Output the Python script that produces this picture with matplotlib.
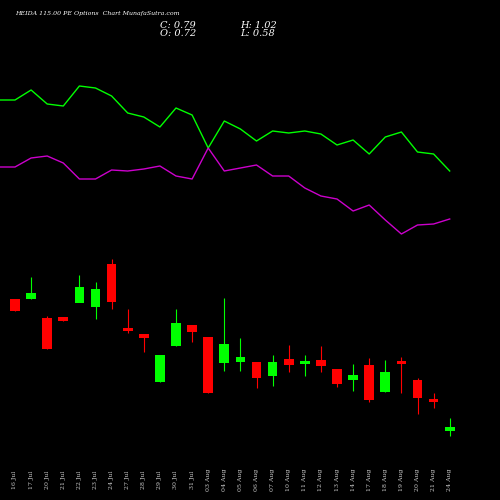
import matplotlib
matplotlib.use("Agg")
import matplotlib.pyplot as plt

dates = ["16 Jul", "17 Jul", "20 Jul", "21 Jul", "22 Jul", "23 Jul", "24 Jul", "27 Jul",
         "28 Jul", "29 Jul", "30 Jul", "31 Jul", "03 Aug", "04 Aug", "05 Aug", "06 Aug",
         "07 Aug", "10 Aug", "11 Aug", "12 Aug", "13 Aug", "14 Aug", "17 Aug", "18 Aug",
         "19 Aug", "20 Aug", "21 Aug", "24 Aug"]
# chart units (higher = up)
opens = [2.01, 2.01, 1.82, 1.83, 1.97, 1.93, 2.36, 1.72, 1.66, 1.18, 1.54, 1.75, 1.63, 1.37,
         1.38, 1.38, 1.24, 1.41, 1.36, 1.40, 1.31, 1.20, 1.35, 1.08, 1.38, 1.20, 1.00, 0.69]
closes = [1.89, 2.07, 1.51, 1.79, 2.13, 2.11, 1.98, 1.69, 1.62, 1.45, 1.77, 1.68, 1.07, 1.56,
          1.43, 1.22, 1.38, 1.35, 1.39, 1.34, 1.16, 1.25, 1.00, 1.28, 1.36, 1.02, 0.98, 0.73]
highs = [2.01, 2.23, 1.84, 1.83, 2.25, 2.18, 2.41, 1.91, 1.66, 1.45, 1.91, 1.75, 1.63, 2.02,
         1.62, 1.38, 1.45, 1.55, 1.45, 1.54, 1.31, 1.36, 1.42, 1.40, 1.43, 1.22, 1.07, 0.82]
lows = [1.89, 2.01, 1.51, 1.79, 2.13, 1.81, 1.91, 1.67, 1.48, 1.18, 1.54, 1.58, 1.07, 1.29,
        1.29, 1.12, 1.14, 1.28, 1.24, 1.28, 1.13, 1.09, 0.98, 1.08, 1.07, 0.86, 0.92, 0.64]
green_line = [4.00, 4.10, 3.96, 3.94, 4.14, 4.12, 4.04, 3.87, 3.83, 3.73, 3.92, 3.85, 3.52, 3.79,
              3.71, 3.59, 3.69, 3.67, 3.69, 3.66, 3.55, 3.60, 3.46, 3.63, 3.68, 3.48, 3.46, 3.29]
magenta_line = [3.33, 3.42, 3.44, 3.37, 3.21, 3.21, 3.30, 3.29, 3.31, 3.34, 3.24, 3.21, 3.52, 3.29,
                3.32, 3.35, 3.24, 3.24, 3.12, 3.04, 3.01, 2.89, 2.95, 2.80, 2.66, 2.75, 2.76, 2.81]

fig = plt.figure(figsize=(5, 5), dpi=100, facecolor="black")
ax = fig.add_axes([0, 0, 1, 1], facecolor="black")
xs = list(range(len(dates)))

ax.plot([-1] + xs, [green_line[0]] + green_line, color="#00ff00", lw=1)
ax.plot([-1] + xs, [magenta_line[0]] + magenta_line, color="#cc00cc", lw=1)

for x, o, c, h, l in zip(xs, opens, closes, highs, lows):
    col = "#00ff00" if c >= o else "#ff0000"
    ax.vlines(x, l, h, color=col, lw=0.8)
    ax.bar(x, max(abs(c - o), 0.03), bottom=min(o, c), width=0.6, color=col)

for x, d in zip(xs, dates):
    ax.text(x, 0.2, d, rotation=90, color="#cccccc", fontsize=4.5,
            ha="center", va="center", family="DejaVu Serif")

ax.text(0.02, 4.86, "HEIDA 115.00 PE Options  Chart MunafaSutra.com", color="white",
        fontsize=4.5, style="italic", family="DejaVu Serif", va="center")
ax.text(9.0, 4.75, "C: 0.79", color="white", fontsize=7, style="italic", family="DejaVu Serif", va="center")
ax.text(9.0, 4.66, "O: 0.72", color="white", fontsize=7, style="italic", family="DejaVu Serif", va="center")
ax.text(14.0, 4.75, "H: 1.02", color="white", fontsize=7, style="italic", family="DejaVu Serif", va="center")
ax.text(14.0, 4.66, "L: 0.58", color="white", fontsize=7, style="italic", family="DejaVu Serif", va="center")

ax.set_xlim(-15 / 16.1, 485 / 16.1)
ax.set_ylim(0, 5)
ax.axis("off")
fig.savefig("out.png", dpi=100, facecolor="black")
